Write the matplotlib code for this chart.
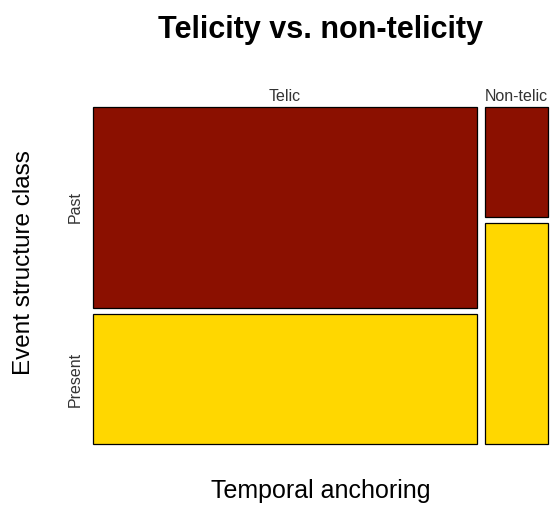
import numpy as np
import matplotlib.pyplot as plt
from matplotlib.patches import Rectangle

plt.rcParams['font.family'] = ['Liberation Sans', 'DejaVu Sans']

cols = ['Telic', 'Non-telic']
rows = ['Past', 'Present']
col_share = [0.859, 0.141]
past_share = [0.608, 0.333]
present_share = [0.392, 0.667]
colors = ['#8B1000', '#FFD700']

W, H = 552, 505
fig = plt.figure(figsize=(W / 100, H / 100), dpi=100)
left, right, top, bottom = 92.7, 548, 106.7, 444
ax = fig.add_axes([left / W, 1 - bottom / H, (right - left) / W, (bottom - top) / H])
aw, ah = right - left, bottom - top
gx, gy = 8.3, 6.7
ax.set_xlim(0, aw)
ax.set_ylim(0, ah)
ax.axis('off')

x = 0
for i, c in enumerate(cols):
    w = col_share[i] * (aw - gx)
    shares = [past_share[i], present_share[i]]
    # past on top, present below
    y = ah
    for j, s in enumerate(shares):
        h = s * (ah - gy)
        ax.add_patch(Rectangle((x, y - h), w, h, facecolor=colors[j],
                               edgecolor='black', lw=0.9, clip_on=False))
        if i == 0:
            ax.text(-17, y - h / 2, rows[j], rotation=90, ha='center',
                    va='center', fontsize=11.5, color='#333333')
        y -= h + gy
    ax.text(x + w / 2, ah + 3, c, ha='center', va='bottom', fontsize=11.5,
            color='#333333')
    x += w + gx

fig.text(320 / W, 1 - 30 / H, 'Telicity vs. non-telicity', ha='center',
         va='center', fontsize=22, fontweight='bold')
fig.text(321 / W, 1 - 491 / H, 'Temporal anchoring', ha='center',
         va='center', fontsize=18)
fig.text(24 / W, 1 - 263 / H, 'Event structure class', ha='center',
         va='center', fontsize=17.5, rotation=90)

fig.savefig('out.png', dpi=100)
